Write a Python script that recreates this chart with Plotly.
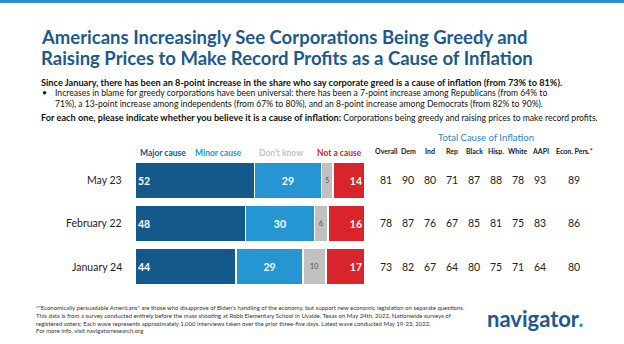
import plotly.graph_objects as go

W, H = 624, 344

waves = ["May 23", "February 22", "January 24"]
major = [52, 48, 44]
minor = [29, 30, 29]
dont_know = [5, 6, 10]
not_cause = [14, 16, 17]

table_cols = ["Overall", "Dem", "Ind", "Rep", "Black", "Hisp.", "White", "AAPI", "Econ. Pers.*"]
table_vals = [
    [81, 90, 80, 71, 87, 88, 78, 93, 89],
    [78, 87, 76, 67, 85, 81, 75, 83, 86],
    [73, 82, 67, 64, 80, 75, 71, 64, 80],
]
table_x_px = [386, 408, 430, 452, 474, 496, 518, 540, 574]

FONT = "Lato"
DARK_BLUE = "#135a8b"
MID_BLUE = "#2596d1"
GRAY = "#c1c1c1"
RED = "#d8242a"
TITLE_BLUE = "#1d5a8a"


def py(px):
    return 1 - px / H


def pxx(px):
    return px / W


fig = go.Figure()

series = [
    ("Major cause", major, DARK_BLUE, "start", "white", 10.5),
    ("Minor cause", minor, MID_BLUE, "middle", "white", 10.5),
    ("Don't know", dont_know, GRAY, "middle", "#555555", 7.5),
    ("Not a cause", not_cause, RED, "end", "white", 10.5),
]
for name, vals, col, anchor, tcol, tsize in series:
    fig.add_trace(go.Bar(
        y=waves, x=vals, orientation="h", name=name,
        marker=dict(color=col, line=dict(color="white", width=1.5)),
        text=[str(v) for v in vals], textposition="inside",
        insidetextanchor=anchor,
        textfont=dict(family=FONT, size=tsize, color=tcol,
                      weight="bold" if tcol == "white" else "normal"),
        cliponaxis=False, showlegend=False,
    ))

fig.update_layout(
    width=W, height=H, margin=dict(l=0, r=0, t=0, b=0),
    paper_bgcolor="white", plot_bgcolor="white",
    barmode="stack", bargap=0.14,
    font=dict(family=FONT, color="#222222"),
    xaxis=dict(domain=[pxx(135), pxx(365)], range=[0, 100], visible=False, fixedrange=True),
    yaxis=dict(domain=[py(288), py(159)], categoryorder="array", categoryarray=waves,
               autorange="reversed", visible=False, fixedrange=True),
)

ann = []
# date labels
for w in waves:
    ann.append(dict(xref="paper", yref="y", x=pxx(124), y=w, text=w, showarrow=False,
                    xanchor="right", yanchor="middle",
                    font=dict(family=FONT, size=10.5, color="#222222")))

# legend headers above bars
legend_items = [
    ("Major cause", DARK_BLUE, 138, "left"),
    ("Minor cause", MID_BLUE, 219, "center"),
    ("Don't know", GRAY, 281, "center"),
    ("Not a cause", RED, 364, "right"),
]
for txt, col, xp, anc in legend_items:
    ann.append(dict(xref="paper", yref="paper", x=pxx(xp), y=py(153), text="<b>" + txt + "</b>",
                    showarrow=False, xanchor=anc, yanchor="middle",
                    font=dict(family=FONT, size=8.5, color=col)))

# table
ann.append(dict(xref="paper", yref="paper", x=pxx(486), y=py(137), text="Total Cause of Inflation",
                showarrow=False, xanchor="center", yanchor="middle",
                font=dict(family=FONT, size=9.5, color="#2a86c2")))
for c, xp in zip(table_cols, table_x_px):
    ann.append(dict(xref="paper", yref="paper", x=pxx(xp), y=py(151), text="<b>" + c + "</b>",
                    showarrow=False, xanchor="center", yanchor="middle",
                    font=dict(family=FONT, size=7, color="#222222")))
for w, row in zip(waves, table_vals):
    for v, xp in zip(row, table_x_px):
        ann.append(dict(xref="paper", yref="y", x=pxx(xp), y=w, text=str(v),
                        showarrow=False, xanchor="center", yanchor="middle",
                        font=dict(family=FONT, size=10.5, color="#222222")))

# title
ann.append(dict(xref="paper", yref="paper", x=pxx(39), y=py(37),
                text="<b>Americans Increasingly See Corporations Being Greedy and</b>",
                showarrow=False, xanchor="left", yanchor="middle",
                font=dict(family=FONT, size=18.5, color=TITLE_BLUE)))
ann.append(dict(xref="paper", yref="paper", x=pxx(39), y=py(58),
                text="<b>Raising Prices to Make Record Profits as a Cause of Inflation</b>",
                showarrow=False, xanchor="left", yanchor="middle",
                font=dict(family=FONT, size=18.5, color=TITLE_BLUE)))

# subtitle
ann.append(dict(xref="paper", yref="paper", x=pxx(39), y=py(82),
                text="<b>Since January, there has been an 8-point increase in the share who say corporate greed is a cause of inflation (from 73% to 81%).</b>",
                showarrow=False, xanchor="left", yanchor="middle",
                font=dict(family=FONT, size=9.2, color="#111111")))
ann.append(dict(xref="paper", yref="paper", x=pxx(40), y=py(93),
                text="•", showarrow=False, xanchor="left", yanchor="middle",
                font=dict(family=FONT, size=8.6, color="#111111")))
ann.append(dict(xref="paper", yref="paper", x=pxx(53), y=py(98),
                text="Increases in blame for greedy corporations have been universal: there has been a 7-point increase among Republicans (from 64% to<br>71%), a 13-point increase among independents (from 67% to 80%), and an 8-point increase among Democrats (from 82% to 90%).",
                showarrow=False, xanchor="left", yanchor="middle", align="left",
                font=dict(family=FONT, size=8.6, color="#111111")))
ann.append(dict(xref="paper", yref="paper", x=pxx(39), y=py(118),
                text="<b><span style='font-size:9.2px'>For each one, please indicate whether you believe it is a cause of inflation:</span></b> Corporations being greedy and raising prices to make record profits.",
                showarrow=False, xanchor="left", yanchor="middle",
                font=dict(family=FONT, size=8.6, color="#111111")))

# footer
ann.append(dict(xref="paper", yref="paper", x=pxx(34), y=py(319),
                text="*\"Economically persuadable Americans\" are those who disapprove of Biden's handling of the economy, but support new economic legislation on separate questions.<br>"
                     "This data is from a survey conducted entirely before the mass shooting at Robb Elementary School in Uvalde, Texas on May 24th, 2022. Nationwide surveys of<br>"
                     "registered voters; Each wave represents approximately 1,000 interviews taken over the prior three-five days. Latest wave conducted May 19-23, 2022.<br>"
                     "For more info, visit navigatorresearch.org",
                showarrow=False, xanchor="left", yanchor="middle", align="left",
                font=dict(family=FONT, size=6.0, color="#333333")))

# logo
ann.append(dict(xref="paper", yref="paper", x=pxx(485), y=py(318),
                text="<b>navigator<span style='color:#2a9ad6'>.</span></b>",
                showarrow=False, xanchor="left", yanchor="middle",
                font=dict(family=FONT, size=22, color=TITLE_BLUE)))

fig.update_layout(annotations=ann)

# top accent bar
fig.add_shape(type="rect", xref="paper", yref="paper", x0=0, x1=1, y0=py(3), y1=1,
              fillcolor="#2b8fc9", line=dict(width=0), layer="above")

fig.write_html("out.html")
